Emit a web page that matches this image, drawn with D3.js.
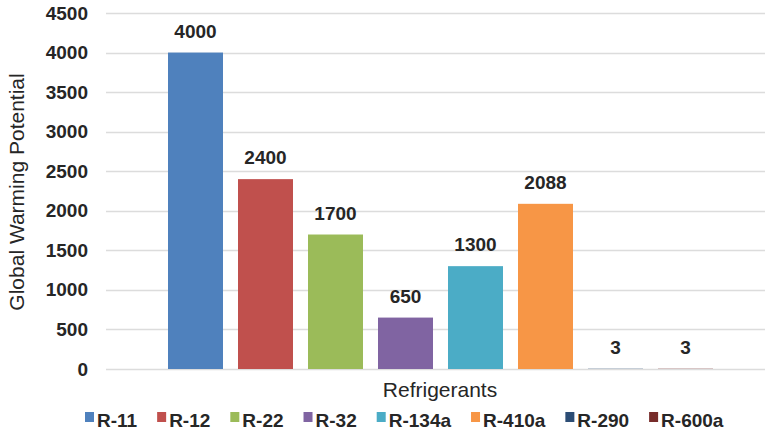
<!DOCTYPE html>
<html>
<head>
<meta charset="utf-8">
<script src="https://cdn.jsdelivr.net/npm/d3@7"></script>
<style>
  html, body { margin: 0; padding: 0; background: #fff; }
  svg { display: block; font-family: "Liberation Sans", Arial, sans-serif; }
</style>
</head>
<body>
<svg id="chart" width="765" height="432"></svg>
<script>
// Global warming potential of common refrigerants
const refrigerants = ["R-11", "R-12", "R-22", "R-32", "R-134a", "R-410a", "R-290", "R-600a"];
const gwpValues = [4000, 2400, 1700, 650, 1300, 2088, 3, 3];
const barColors = ["#4F81BD", "#C0504D", "#9BBB59", "#8064A2", "#4BACC6", "#F79646", "#2C4D75", "#772C2A"];
const yTicks = [0, 500, 1000, 1500, 2000, 2500, 3000, 3500, 4000, 4500];

const svg = d3.select("#chart");
const textColor = "#262626";

const plot = { left: 106, right: 765, top: 13, bottom: 369 };

const y = d3.scaleLinear().domain([0, 4500]).range([plot.bottom, plot.top]);
const x = d3.scaleBand()
  .domain(refrigerants)
  .range([160.5, 720.5])
  .paddingInner(15 / 70)
  .paddingOuter(7.5 / 70);

// gridlines
svg.append("g")
  .selectAll("line")
  .data(yTicks)
  .join("line")
  .attr("x1", plot.left)
  .attr("x2", plot.right)
  .attr("y1", d => Math.round(y(d)) + 0.5)
  .attr("y2", d => Math.round(y(d)) + 0.5)
  .attr("stroke", "#dcdcdc")
  .attr("stroke-width", 1.5);

// y axis labels
const yAxis = d3.axisLeft(y).tickValues(yTicks).tickFormat(d3.format("d")).tickSize(0).tickPadding(0);
const yg = svg.append("g")
  .attr("transform", "translate(88,0)")
  .call(yAxis);
yg.select(".domain").remove();
yg.selectAll("text")
  .attr("font-family", "Liberation Sans, Arial, sans-serif")
  .attr("font-size", 19)
  .attr("font-weight", "bold")
  .attr("fill", textColor);

// bars
svg.append("g")
  .selectAll("rect")
  .data(refrigerants)
  .join("rect")
  .attr("x", d => x(d))
  .attr("width", x.bandwidth())
  .attr("y", (d, i) => y(gwpValues[i]))
  .attr("height", (d, i) => y(0) - y(gwpValues[i]))
  .attr("fill", (d, i) => barColors[i]);

// value labels
svg.append("g")
  .selectAll("text")
  .data(refrigerants)
  .join("text")
  .attr("x", d => x(d) + x.bandwidth() / 2)
  .attr("y", (d, i) => y(gwpValues[i]) - 15)
  .attr("text-anchor", "middle")
  .attr("font-size", 19)
  .attr("font-weight", "bold")
  .attr("fill", textColor)
  .text((d, i) => gwpValues[i]);

// axis titles
svg.append("text")
  .attr("transform", "translate(24,192) rotate(-90)")
  .attr("text-anchor", "middle")
  .attr("font-size", 21)
  .attr("fill", textColor)
  .text("Global Warming Potential");

svg.append("text")
  .attr("x", 440)
  .attr("y", 397)
  .attr("text-anchor", "middle")
  .attr("font-size", 21)
  .attr("fill", textColor)
  .text("Refrigerants");

// legend
const legend = svg.append("g");
let lx = 85;
refrigerants.forEach((name, i) => {
  const item = legend.append("g").attr("transform", `translate(${lx},0)`);
  item.append("rect")
    .attr("x", 0).attr("y", 412)
    .attr("width", 9).attr("height", 10)
    .attr("fill", barColors[i]);
  const t = item.append("text")
    .attr("x", 12).attr("y", 427)
    .attr("font-size", 19)
    .attr("font-weight", "bold")
    .attr("fill", textColor)
    .text(name);
  lx += 12 + t.node().getComputedTextLength() + 20;
});
</script>
</body>
</html>
